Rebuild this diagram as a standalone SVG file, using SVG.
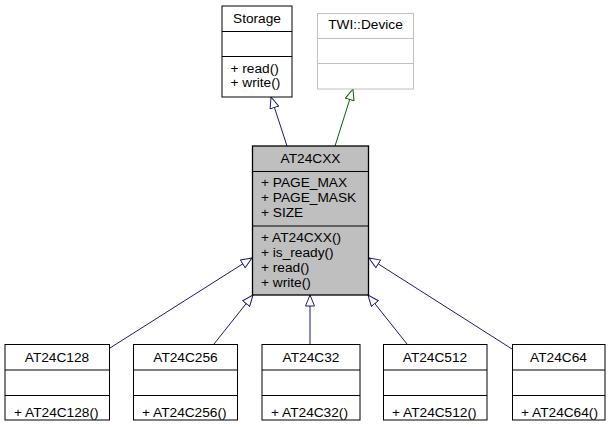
<svg xmlns="http://www.w3.org/2000/svg" width="615" height="427" viewBox="0 0 615 427">
<defs>
<style>
text{font-family:"Liberation Sans",Arial,Helvetica,sans-serif;font-size:13.7px;fill:#000}
.t{text-anchor:middle}
.box{fill:#fff;stroke:#000;stroke-width:1}
.gbox{fill:#fff;stroke:#bfbfbf;stroke-width:1}
.gl{stroke:#bfbfbf;stroke-width:1}
.bl{stroke:#000;stroke-width:1}
.main{fill:#bfbfbf;stroke:#000;stroke-width:1.3}
.edge{fill:none;stroke:#191970;stroke-width:1}
.edgeg{fill:none;stroke:#006400;stroke-width:1}
</style>
<marker id="ab" viewBox="0 0 12 10" refX="11.5" refY="5" markerWidth="12" markerHeight="10" markerUnits="userSpaceOnUse" orient="auto">
<path d="M0.5,0.5 L11.5,5 L0.5,9.5 z" fill="#fff" stroke="#191970" stroke-width="1"/>
</marker>
<marker id="ag" viewBox="0 0 12 10" refX="11.5" refY="5" markerWidth="12" markerHeight="10" markerUnits="userSpaceOnUse" orient="auto">
<path d="M0.5,0.5 L11.5,5 L0.5,9.5 z" fill="#fff" stroke="#006400" stroke-width="1"/>
</marker>
</defs>
<rect width="615" height="427" fill="#fff"/>
<g id="connectors">
<path class="edge" d="M287,146 L271,97" marker-end="url(#ab)"/>
<path class="edgeg" d="M335,146 L353,89" marker-end="url(#ag)"/>
<path class="edge" d="M110,348 L252,258" marker-end="url(#ab)"/>
<path class="edge" d="M214,344 L253,295" marker-end="url(#ab)"/>
<path class="edge" d="M310,344 L310,295" marker-end="url(#ab)"/>
<path class="edge" d="M407,344 L368,295" marker-end="url(#ab)"/>
<path class="edge" d="M512,349 L369,258" marker-end="url(#ab)"/>
</g>
<g id="Storage">
<rect class="box" x="222" y="6" width="70" height="91"/>
<line class="bl" x1="222" y1="31.5" x2="292" y2="31.5"/>
<line class="bl" x1="222" y1="56.5" x2="292" y2="56.5"/>
<text class="t" x="257" y="22.5">Storage</text>
<text x="230.5" y="73">+ read()</text>
<text x="230.5" y="87">+ write()</text>
</g>
<g id="TWI_Device">
<rect class="gbox" x="317.5" y="13.5" width="96" height="75.5"/>
<line class="gl" x1="317.5" y1="38.5" x2="413.5" y2="38.5"/>
<line class="gl" x1="317.5" y1="63.5" x2="413.5" y2="63.5"/>
<text class="t" x="365.5" y="29">TWI::Device</text>
</g>
<g id="AT24CXX">
<rect class="main" x="252.5" y="146" width="116" height="149"/>
<line class="bl" x1="252.5" y1="171.5" x2="368.5" y2="171.5" stroke-width="1.3"/>
<line class="bl" x1="252.5" y1="226" x2="368.5" y2="226" stroke-width="1.3"/>
<text class="t" x="310.5" y="163">AT24CXX</text>
<text x="261" y="187">+ PAGE_MAX</text>
<text x="261" y="202">+ PAGE_MASK</text>
<text x="261" y="217">+ SIZE</text>
<text x="261" y="242">+ AT24CXX()</text>
<text x="261" y="257">+ is_ready()</text>
<text x="261" y="272">+ read()</text>
<text x="261" y="287">+ write()</text>
</g>
<g id="AT24C128">
<rect class="box" x="5" y="344.5" width="104.5" height="75.5"/>
<line class="bl" x1="5" y1="370" x2="109.5" y2="370"/>
<line class="bl" x1="5" y1="395.5" x2="109.5" y2="395.5"/>
<text class="t" x="57" y="362">AT24C128</text>
<text x="14" y="417">+ AT24C128()</text>
</g>
<g id="AT24C256">
<rect class="box" x="133.5" y="344.5" width="104" height="75.5"/>
<line class="bl" x1="133.5" y1="370" x2="237.5" y2="370"/>
<line class="bl" x1="133.5" y1="395.5" x2="237.5" y2="395.5"/>
<text class="t" x="185.5" y="362">AT24C256</text>
<text x="142" y="417">+ AT24C256()</text>
</g>
<g id="AT24C32">
<rect class="box" x="262" y="344.5" width="98" height="75.5"/>
<line class="bl" x1="262" y1="370" x2="360" y2="370"/>
<line class="bl" x1="262" y1="395.5" x2="360" y2="395.5"/>
<text class="t" x="311" y="362">AT24C32</text>
<text x="271" y="417">+ AT24C32()</text>
</g>
<g id="AT24C512">
<rect class="box" x="383.5" y="344.5" width="103.5" height="75.5"/>
<line class="bl" x1="383.5" y1="370" x2="487" y2="370"/>
<line class="bl" x1="383.5" y1="395.5" x2="487" y2="395.5"/>
<text class="t" x="435" y="362">AT24C512</text>
<text x="392" y="417">+ AT24C512()</text>
</g>
<g id="AT24C64">
<rect class="box" x="512.5" y="344.5" width="92.5" height="75.5"/>
<line class="bl" x1="512.5" y1="370" x2="605" y2="370"/>
<line class="bl" x1="512.5" y1="395.5" x2="605" y2="395.5"/>
<text class="t" x="558.5" y="362">AT24C64</text>
<text x="521" y="417">+ AT24C64()</text>
</g>
</svg>
